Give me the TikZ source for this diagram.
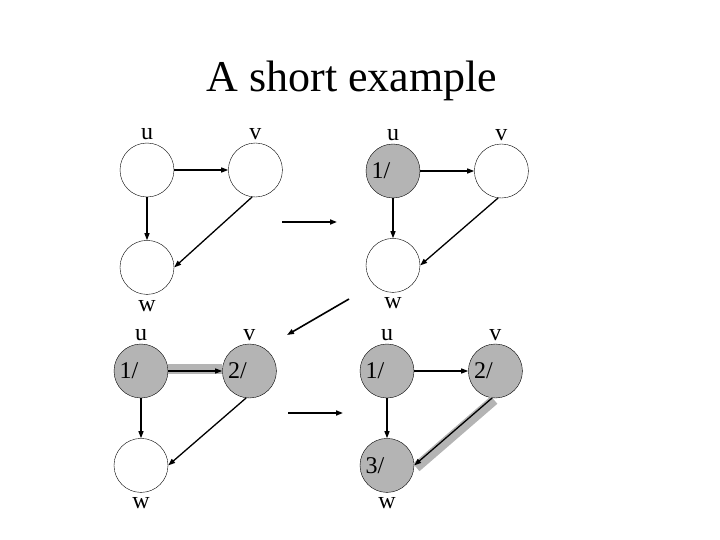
\documentclass[tikz,border=0pt]{standalone}
\usepackage{fontspec}
\setmainfont{Liberation Serif}
\usepackage{tikz}
\usetikzlibrary{positioning, arrows.meta}
\definecolor{visitgray}{RGB}{180,180,180}
\tikzset{
  >={Triangle[length=7pt, width=5pt]},
  node distance=40pt and 54pt,
  every node/.style={font=\fontsize{24}{28}\selectfont},
  every label/.style={inner sep=3pt},
  vertex/.style={circle, draw, thin, minimum size=54pt, inner sep=0pt},
  seen/.style={vertex, fill=visitgray},
  link/.style={->, line width=1.3pt},
  step arrow/.style={->, line width=1.6pt},
  tree link/.style={draw=visitgray, line width=10pt},
}

\begin{document}
\begin{tikzpicture}[x=1pt, y=-1pt]
		\useasboundingbox (0,0) rectangle (720,540);

		% title
		\node[anchor=base, font=\fontsize{44}{50}\selectfont] (title) at (352,92) {A short example};

		% first graph
		\node[vertex, label=above:u] (u1) at (147,170) {};
		\node[vertex, right=of u1, label=above:v] (v1) {};
		\node[vertex, below=43pt of u1, label={[label distance=3pt]below:w}] (w1) {};
		\draw[link] (u1) -- (v1);
		\draw[link] (u1) -- (w1);
		\draw[link] (v1.-97) -- (w1.east);

		% second graph
		\node[seen, label=above:u] (u2) at (393,171) {1/\hphantom{22}};
		\node[vertex, right=of u2, label=above:v] (v2) {};
		\node[vertex, below=of u2, label={[label distance=2pt]below:w}] (w2) {};
		\draw[link] (u2) -- (v2);
		\draw[link] (u2) -- (w2);
		\draw[link] (v2.-97) -- (w2.east);

		% third graph
		\node[seen, label=above:u] (u3) at (141,371) {1/\hphantom{22}};
		\node[seen, right=of u3, label=above:v] (v3) {2/\hphantom{22}};
		\node[vertex, below=of u3, label={[label distance=2pt]below:w}] (w3) {};
		\draw[tree link] ([yshift=2pt]u3.east) -- ([yshift=2pt]v3.west);
		\draw[link] (u3) -- (v3);
		\draw[link] (u3) -- (w3);
		\draw[link] (v3.-97) -- (w3.east);

		% fourth graph
		\node[seen, label=above:u] (u4) at (387,371) {1/\hphantom{22}};
		\node[seen, right=of u4, label=above:v] (v4) {2/\hphantom{22}};
		\node[seen, below=of u4, label={[label distance=2pt]below:w}] (w4) {3/\hphantom{22}};
		\draw[link] (u4) -- (v4);
		\draw[link] (u4) -- (w4);
		\draw[tree link] ([shift={(2pt,-2pt)}]v4.-97) -- ([shift={(2pt,-2pt)}]w4.east);
		\draw[link] (v4.-97) -- (w4.east);

		% steps between the graphs
		\coordinate (s1) at (282,222);
		\coordinate (t1) at (337,222);
		\coordinate (s2) at (349,299);
		\coordinate (t2) at (287,335);
		\coordinate (s3) at (288,413);
		\coordinate (t3) at (343,413);
		\draw[step arrow] (s1) -- (t1);
		\draw[step arrow] (s2) -- (t2);
		\draw[step arrow] (s3) -- (t3);

	\end{tikzpicture}
\end{document}
